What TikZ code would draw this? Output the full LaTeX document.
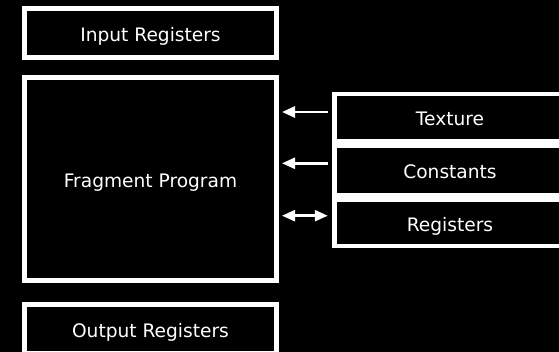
\documentclass[tikz,border=0pt]{standalone}
\usepackage{fontspec}
\setmainfont{DejaVu Sans}
\usetikzlibrary{arrows.meta}
\begin{document}
\begin{tikzpicture}[x=1pt,y=-1pt,
  box/.style={draw=white,line width=5pt,fill=black,text=white,inner sep=0pt,outer sep=0pt,
    text height=16.4pt,text depth=0pt,font=\fontsize{18.6}{22}\selectfont},
  sidebox/.style={box,line width=4.5pt,minimum width=231.5pt},
  arr/.style={white,line width=2.5pt,-{Triangle[length=13pt,width=11pt]}},
  darr/.style={white,line width=2.5pt,{Triangle[length=13pt,width=11pt]}-{Triangle[length=13pt,width=11pt]}}]
  % canvas
  \fill[black] (0,0) rectangle (559,352);
  \useasboundingbox (0,0) rectangle (559,352);
  \clip (0,0) rectangle (559,352);
  % left column
  \node[box,minimum width=252pt,minimum height=49pt] (inreg) at (150.5,33) {Input Registers};
  \node[box,minimum width=252pt,minimum height=203.5pt] (frag) at (150.5,179.25) {Fragment Program};
  \node[box,minimum width=252pt,minimum height=49pt] (outreg) at (150.5,329) {Output Registers};
  % resources on the right
  \node[sidebox,minimum height=47pt] (tex) at (450,117.75) {Texture};
  \node[sidebox,minimum height=49.5pt] (cons) at (450,170.5) {Constants};
  \node[sidebox,minimum height=46.5pt] (regs) at (450,223) {Registers};
  % data flow into the program
  \draw[arr,shorten <=6.5pt,shorten >=5.5pt] ([yshift=5.75pt]tex.west) coordinate (ta) -- (ta -| frag.east);
  \draw[arr,shorten <=6.5pt,shorten >=5.5pt] ([yshift=7.2pt]cons.west) coordinate (ca) -- (ca -| frag.east);
  \draw[darr,shorten <=6.5pt,shorten >=5.5pt] ([yshift=7.3pt]regs.west) coordinate (ra) -- (ra -| frag.east);
\end{tikzpicture}
\end{document}
